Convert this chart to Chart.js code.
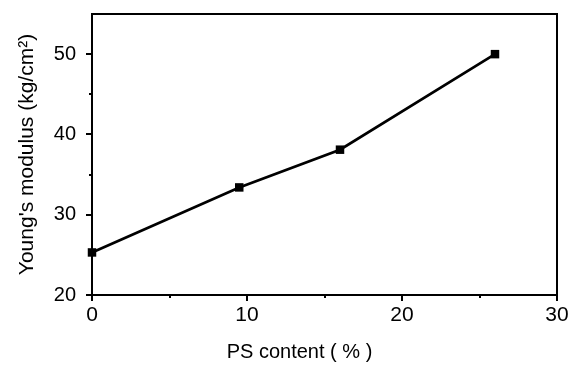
<!DOCTYPE html>
<html lang="en">
<head>
    <meta charset="UTF-8" />
    <title>Young's modulus vs PS content</title>
    <script src="https://cdn.jsdelivr.net/npm/chart.js"></script>
    <style>
        * { margin: 0; padding: 0; box-sizing: border-box; }
        body { background: #ffffff; width: 570px; height: 365px; overflow: hidden; }
        canvas { display: block; }
    </style>
</head>
<body>
    <canvas id="modulusChart" width="570" height="365"></canvas>

    <script>
        // data
        const psContent = [0, 9.5, 16, 26];
        const youngsModulus = [25.3, 33.4, 38.1, 50.0];

        const xMajorTicks = [0, 10, 20, 30];
        const xMinorTicks = [5, 15, 25];
        const yMajorTicks = [20, 30, 40, 50];
        const yMinorTicks = [25, 35, 45];

        const FONT = 'Arial, "Liberation Sans", sans-serif';

        // frame + outward tick marks, placed through the chart's own scales
        const framePlugin = {
            id: 'framePlugin',
            afterDraw(chart) {
                const { ctx, chartArea: a, scales } = chart;
                ctx.save();
                ctx.strokeStyle = '#000';
                ctx.lineWidth = 2;
                ctx.strokeRect(a.left, a.top, a.right - a.left, a.bottom - a.top);

                const tick = (vals, len, isX) => {
                    vals.forEach(v => {
                        ctx.beginPath();
                        if (isX) {
                            const px = Math.round(scales.x.getPixelForValue(v));
                            ctx.moveTo(px, a.bottom);
                            ctx.lineTo(px, a.bottom + len);
                        } else {
                            const py = Math.round(scales.y.getPixelForValue(v));
                            ctx.moveTo(a.left, py);
                            ctx.lineTo(a.left - len, py);
                        }
                        ctx.stroke();
                    });
                };
                tick(xMajorTicks, 6, true);
                tick(xMinorTicks, 3, true);
                tick(yMajorTicks, 6, false);
                tick(yMinorTicks, 3, false);
                ctx.restore();
            }
        };

        // fixed box sizes so the plot area sits where the original has it
        function fixBox(s, prop, size) {
            s[prop] = size;
            s.paddingTop = 0;
            s.paddingBottom = 0;
            s.paddingLeft = 0;
            s.paddingRight = 0;
        }

        new Chart(document.getElementById('modulusChart'), {
            type: 'scatter',
            data: {
                datasets: [{
                    data: psContent.map((x, i) => ({ x: x, y: youngsModulus[i] })),
                    showLine: true,
                    borderColor: '#000',
                    borderWidth: 2.7,
                    backgroundColor: '#000',
                    pointStyle: 'rect',
                    pointRadius: 6,
                    pointBorderWidth: 0,
                    clip: false
                }]
            },
            options: {
                responsive: false,
                animation: false,
                devicePixelRatio: 1,
                layout: { padding: { top: 14, right: 13, left: 0, bottom: 0 } },
                plugins: {
                    legend: { display: false },
                    tooltip: { enabled: false }
                },
                scales: {
                    x: {
                        type: 'linear',
                        min: 0,
                        max: 30,
                        afterBuildTicks: s => { s.ticks = xMajorTicks.map(v => ({ value: v })); },
                        afterFit: s => fixBox(s, 'height', 70),
                        grid: { display: false, drawTicks: false },
                        border: { display: false },
                        ticks: {
                            color: '#000',
                            padding: 7.5,
                            maxRotation: 0,
                            font: { family: FONT, size: 21 }
                        },
                        title: {
                            display: true,
                            text: 'PS content ( % )         ',
                            color: '#000',
                            padding: { top: 0, bottom: 1 },
                            font: { family: FONT, size: 20 }
                        }
                    },
                    y: {
                        type: 'linear',
                        min: 20,
                        max: 55,
                        afterBuildTicks: s => { s.ticks = yMajorTicks.map(v => ({ value: v })); },
                        afterFit: s => fixBox(s, 'width', 92),
                        grid: { display: false, drawTicks: false },
                        border: { display: false },
                        ticks: {
                            color: '#000',
                            padding: 16,
                            font: { family: FONT, size: 20 }
                        },
                        title: {
                            display: true,
                            text: 'Young\'s modulus (kg/cm²)',
                            color: '#000',
                            padding: { top: 14.5, bottom: 0 },
                            font: { family: FONT, size: 21 }
                        }
                    }
                }
            },
            plugins: [framePlugin]
        });
    </script>
</body>
</html>
